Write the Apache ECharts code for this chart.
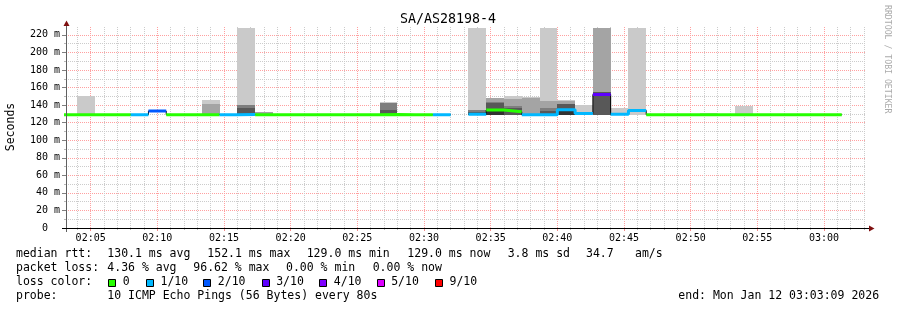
<!DOCTYPE html>
<html>
<head>
<meta charset="utf-8">
<script src="https://cdn.jsdelivr.net/npm/echarts@6/dist/echarts.min.js"></script>
<style>html,body{margin:0;padding:0;background:#fff}#chart{width:897px;height:310px}</style>
</head>
<body>
<div id="chart"></div>
<script>
// ---------------- data ----------------
const chartTitle = 'SA/AS28198-4';
const windowStart = '02:03:09';
const windowEnd = '03:03:09';
const stepSeconds = 80;

const stepStarts = ['02:02:40','02:04:00','02:05:20','02:06:40','02:08:00','02:09:20','02:10:40','02:12:00','02:13:20','02:14:40',
  '02:16:00','02:17:20','02:18:40','02:20:00','02:21:20','02:22:40','02:24:00','02:25:20','02:26:40','02:28:00',
  '02:29:20','02:30:40','02:32:00','02:33:20','02:34:40','02:36:00','02:37:20','02:38:40','02:40:00','02:41:20',
  '02:42:40','02:44:00','02:45:20','02:46:40','02:48:00','02:49:20','02:50:40','02:52:00','02:53:20','02:54:40',
  '02:56:00','02:57:20','02:58:40','03:00:00'];

// median rtt (ms) per step
const medianRtt = [129.1,129.1,129.1,129.1,129.1,133.3,129.1,129.1,129.1,129.1,
  129.2,129.1,129.1,129.1,129.1,129.1,129.1,129.1,129.2,129.1,
  129.1,129.1,null,129.6,134.4,132.4,129.1,129.1,134.8,130.4,
  152.1,129.5,133.9,129.1,129.1,129.1,129.1,129.1,129.1,129.1,
  129.1,129.1,129.1,129.0];

// lost pings (of 10) per step
const lossCount = [0,0,0,0,1,2,0,0,0,1,
  1,0,0,0,0,0,0,0,0,0,
  0,1,null,1,0,0,1,1,1,1,
  3,1,1,0,0,0,0,0,0,0,
  0,0,0,0];

// smoke: lowest ping and tops of the five grey bands (outer -> inner)
const smokeBase = [null,128.9,null,null,null,null,null,null,128.9,null,
  128.9,128.9,null,null,null,null,null,null,128.9,null,
  null,null,null,128.9,128.9,128.9,128.9,128.9,128.9,128.9,
  128.9,128.9,128.9,null,null,null,128.9,null,128.9,null,
  null,null,null,null];
const smokeBand1 = [null,150.4,null,null,null,null,null,null,146.0,null,
  228,132.5,null,null,null,null,null,null,143.0,null,
  null,null,null,228,148.5,150.4,149.3,228,145.9,140.2,
  null,137.0,228,null,null,null,131.0,null,139.4,null,
  null,null,null,null];
const smokeBand2 = [null,null,null,null,null,null,null,null,141.3,null,
  null,131.6,null,null,null,null,null,null,null,null,
  null,null,null,null,147.6,146.5,148.5,144.7,144.6,null,
  228,null,null,null,null,null,null,null,null,null,
  null,null,null,null];
const smokeBand3 = [null,null,null,null,null,null,null,null,null,null,
  140.6,null,null,null,null,null,null,null,142.2,null,
  null,null,null,135.0,144.0,139.0,null,137.1,null,null,
  null,null,null,null,null,null,null,null,null,null,
  null,null,null,null];
const smokeBand4 = [null,null,null,null,null,null,null,null,null,null,
  136.2,null,null,null,null,null,null,null,134.0,null,
  null,null,null,132.5,142.0,136.4,null,133.0,141.6,null,
  154.5,null,null,null,null,null,null,null,null,null,
  null,null,null,null];
const smokeBand5 = [null,null,null,null,null,null,null,null,null,null,
  null,null,null,null,null,null,null,null,null,null,
  null,null,null,null,133.0,null,null,null,136.0,null,
  null,null,null,null,null,null,null,null,null,null,
  null,null,null,null];

const xTickLabels = ['02:05','02:10','02:15','02:20','02:25','02:30','02:35','02:40','02:45','02:50','02:55','03:00'];
const yMajorTicks = [0,20,40,60,80,100,120,140,160,180,200,220];
const yMinorTicks = [10,30,50,70,90,110,130,150,170,190,210];
const yMax = 229;

const lossLevels = [0,1,2,3,4,5,9];
const lossLabels = ['0','1/10','2/10','3/10','4/10','5/10','9/10'];
const lossColors = ['#26ff00','#00b8ff','#0059ff','#5e00ff','#7e00ff','#dd00ff','#ff0000'];
const bandColors = ['#cacaca','#a4a4a4','#7e7e7e','#585858','#323232'];

const rttStats = ['130.1 ms avg','152.1 ms max','129.0 ms min','129.0 ms now','3.8 ms sd','34.7','am/s'];
const lossStats = ['4.36 % avg','96.62 % max','0.00 % min','0.00 % now'];
const probeText = '10 ICMP Echo Pings (56 Bytes) every 80s';
const endText = 'end: Mon Jan 12 03:03:09 2026';

// ---------------- build ----------------
const toSec = s => { const p = s.split(':').map(Number); return (p[0] - 2) * 3600 + p[1] * 60 + (p[2] || 0); };
const pad = n => (n < 10 ? '0' : '') + n;
const fmtHM = v => { const m = Math.round(v / 60); return pad(2 + Math.floor(m / 60)) + ':' + pad(m % 60); };
const xMin = toSec(windowStart), xMax = toSec(windowEnd);
const xs = stepStarts.map(toSec);
const xMajor = xTickLabels.map(toSec);
const xMinor = [];
for (let m = Math.ceil(xMin / 60); m * 60 < xMax; m++) { if (m % 5 !== 0) xMinor.push(m * 60); }

function lineData(pred) {
  const d = [];
  for (let i = 0; i < xs.length; i++) {
    const v = medianRtt[i];
    if (v != null && pred(i)) { d.push([xs[i], v]); d.push([xs[i] + stepSeconds, v]); }
    else d.push([xs[i], '-']);
  }
  return d;
}

const bands = [smokeBand1, smokeBand2, smokeBand3, smokeBand4, smokeBand5];
const smokeData = [];
bands.forEach((arr, b) => {
  arr.forEach((top, i) => {
    if (top != null && smokeBase[i] != null) smokeData.push([xs[i], xs[i] + stepSeconds, smokeBase[i], top, b]);
  });
});

const MONO = "'DejaVu Sans Mono', monospace";
const series = [];
series.push({
  type: 'custom', silent: true, clip: true, xAxisIndex: 0, yAxisIndex: 0,
  encode: { x: [0, 1], y: [2, 3] },
  data: smokeData,
  renderItem: function (params, api) {
    const a = api.coord([api.value(0), api.value(3)]);
    const b = api.coord([api.value(1), api.value(2)]);
    const x0 = Math.round(a[0]), x1 = Math.round(b[0]);
    const y0 = Math.round(a[1]), y1 = Math.round(b[1]);
    return { type: 'rect', shape: { x: x0, y: y0, width: x1 - x0, height: y1 - y0 },
      style: { fill: bandColors[api.value(4)] } };
  }
});
series.push({
  type: 'line', silent: true, symbol: 'none', xAxisIndex: 0, yAxisIndex: 0,
  data: lineData(() => true),
  lineStyle: { width: 1, color: '#000' }, z: 3
});
lossLevels.forEach((lvl, j) => {
  series.push({
    type: 'line', name: lossLabels[j], silent: true, symbol: 'none', xAxisIndex: 0, yAxisIndex: 0,
    data: lineData(i => lossCount[i] === lvl),
    lineStyle: { width: 3, color: lossColors[j], cap: 'butt' }, z: 4
  });
});

// texts and decorations
const graphics = [];
function txt(x, y, text, size, extra) {
  graphics.push(Object.assign({ type: 'text', x: x, y: y, z: 100, silent: true,
    style: { text: text, font: size + 'px ' + MONO, fill: '#000', align: 'left', verticalAlign: 'middle' } }, extra || {}));
}
txt(448, 20, chartTitle, 13.3);
graphics[graphics.length - 1].style.align = 'center';
txt(11.5, 127, 'Seconds', 11.5, { rotation: Math.PI / 2 });
graphics[graphics.length - 1].style.align = 'center';
txt(887.5, 5, 'RRDTOOL / TOBI OETIKER', 8.2, { rotation: -Math.PI / 2 });
graphics[graphics.length - 1].style.fill = '#ababab';

const FS = 11.5;
txt(16, 254.3, 'median rtt:', FS);
[107.3, 207.3, 306.7, 407.3, 507.7, 586, 635].forEach((x, i) => txt(x, 254.3, rttStats[i], FS));
txt(16, 268.3, 'packet loss:', FS);
[107.3, 193.3, 286, 372.7].forEach((x, i) => txt(x, 268.3, lossStats[i], FS));
txt(16, 282.3, 'loss color:', FS);
const boxX = [108.3, 146, 203.3, 261.7, 319.3, 376.7, 435];
boxX.forEach((x, i) => {
  graphics.push({ type: 'rect', z: 100, silent: true, shape: { x: Math.round(x) + 0.5, y: 279.5, width: 7, height: 7 },
    style: { fill: lossColors[i], stroke: '#000', lineWidth: 1 } });
  txt(x + 14.5, 282.3, lossLabels[i], FS);
});
txt(16, 296.3, 'probe:', FS);
txt(107.3, 296.3, probeText, FS);
txt(678.3, 296.3, endText, FS);

// axes lines + arrows
graphics.push({ type: 'line', z: 90, silent: true, shape: { x1: 66.5, y1: 232, x2: 66.5, y2: 25 }, style: { stroke: '#606060', lineWidth: 1 } });
graphics.push({ type: 'line', z: 90, silent: true, shape: { x1: 62, y1: 228.5, x2: 870, y2: 228.5 }, style: { stroke: '#000', lineWidth: 1 } });
graphics.push({ type: 'polygon', z: 91, silent: true, shape: { points: [[63.5, 26], [69.5, 26], [66.5, 20.5]] }, style: { fill: '#7f1010' } });
graphics.push({ type: 'polygon', z: 91, silent: true, shape: { points: [[869, 225.5], [869, 231.5], [874.5, 228.5]] }, style: { fill: '#7f1010' } });

const option = {
  animation: false,
  backgroundColor: '#fff',
  grid: { left: 66, right: 31, top: 27, bottom: 82, containLabel: false },
  xAxis: [
    { type: 'value', min: xMin, max: xMax, position: 'bottom',
      axisLine: { show: false },
      axisTick: { show: true, length: 3, customValues: xMajor, lineStyle: { color: '#f08a8a' } },
      axisLabel: { show: true, customValues: xMajor, formatter: fmtHM, margin: 5, fontFamily: MONO, fontSize: 10, color: '#000' },
      splitLine: { show: true, lineStyle: { color: '#ffa0a0', width: 1, type: [1, 1] } } },
    { type: 'value', min: xMin, max: xMax, position: 'bottom',
      axisLine: { show: false },
      axisTick: { show: true, length: 2, customValues: xMinor, lineStyle: { color: '#b8b8b8' } },
      axisLabel: { show: false },
      splitLine: { show: true, lineStyle: { color: '#cccccc', width: 1, type: [1, 1] } } }
  ],
  yAxis: [
    { type: 'value', min: 0, max: yMax, position: 'left',
      axisLine: { show: false },
      axisTick: { show: true, length: 4, customValues: yMajorTicks, lineStyle: { color: '#808080' } },
      axisLabel: { show: true, customValues: yMajorTicks, formatter: v => (v === 0 ? '0  ' : v + ' m'), margin: 6, fontFamily: MONO, fontSize: 10, color: '#000' },
      splitLine: { show: true, lineStyle: { color: '#ffa0a0', width: 1, type: [1, 1] } } },
    { type: 'value', min: 0, max: yMax, position: 'left',
      axisLine: { show: false },
      axisTick: { show: true, length: 2, customValues: yMinorTicks, lineStyle: { color: '#b8b8b8' } },
      axisLabel: { show: false },
      splitLine: { show: true, lineStyle: { color: '#cccccc', width: 1, type: [1, 1] } } }
  ],
  series: series,
  graphic: { elements: graphics }
};

const chart = echarts.init(document.getElementById('chart'), null, { renderer: 'canvas' });
chart.setOption(option);
</script>
</body>
</html>
